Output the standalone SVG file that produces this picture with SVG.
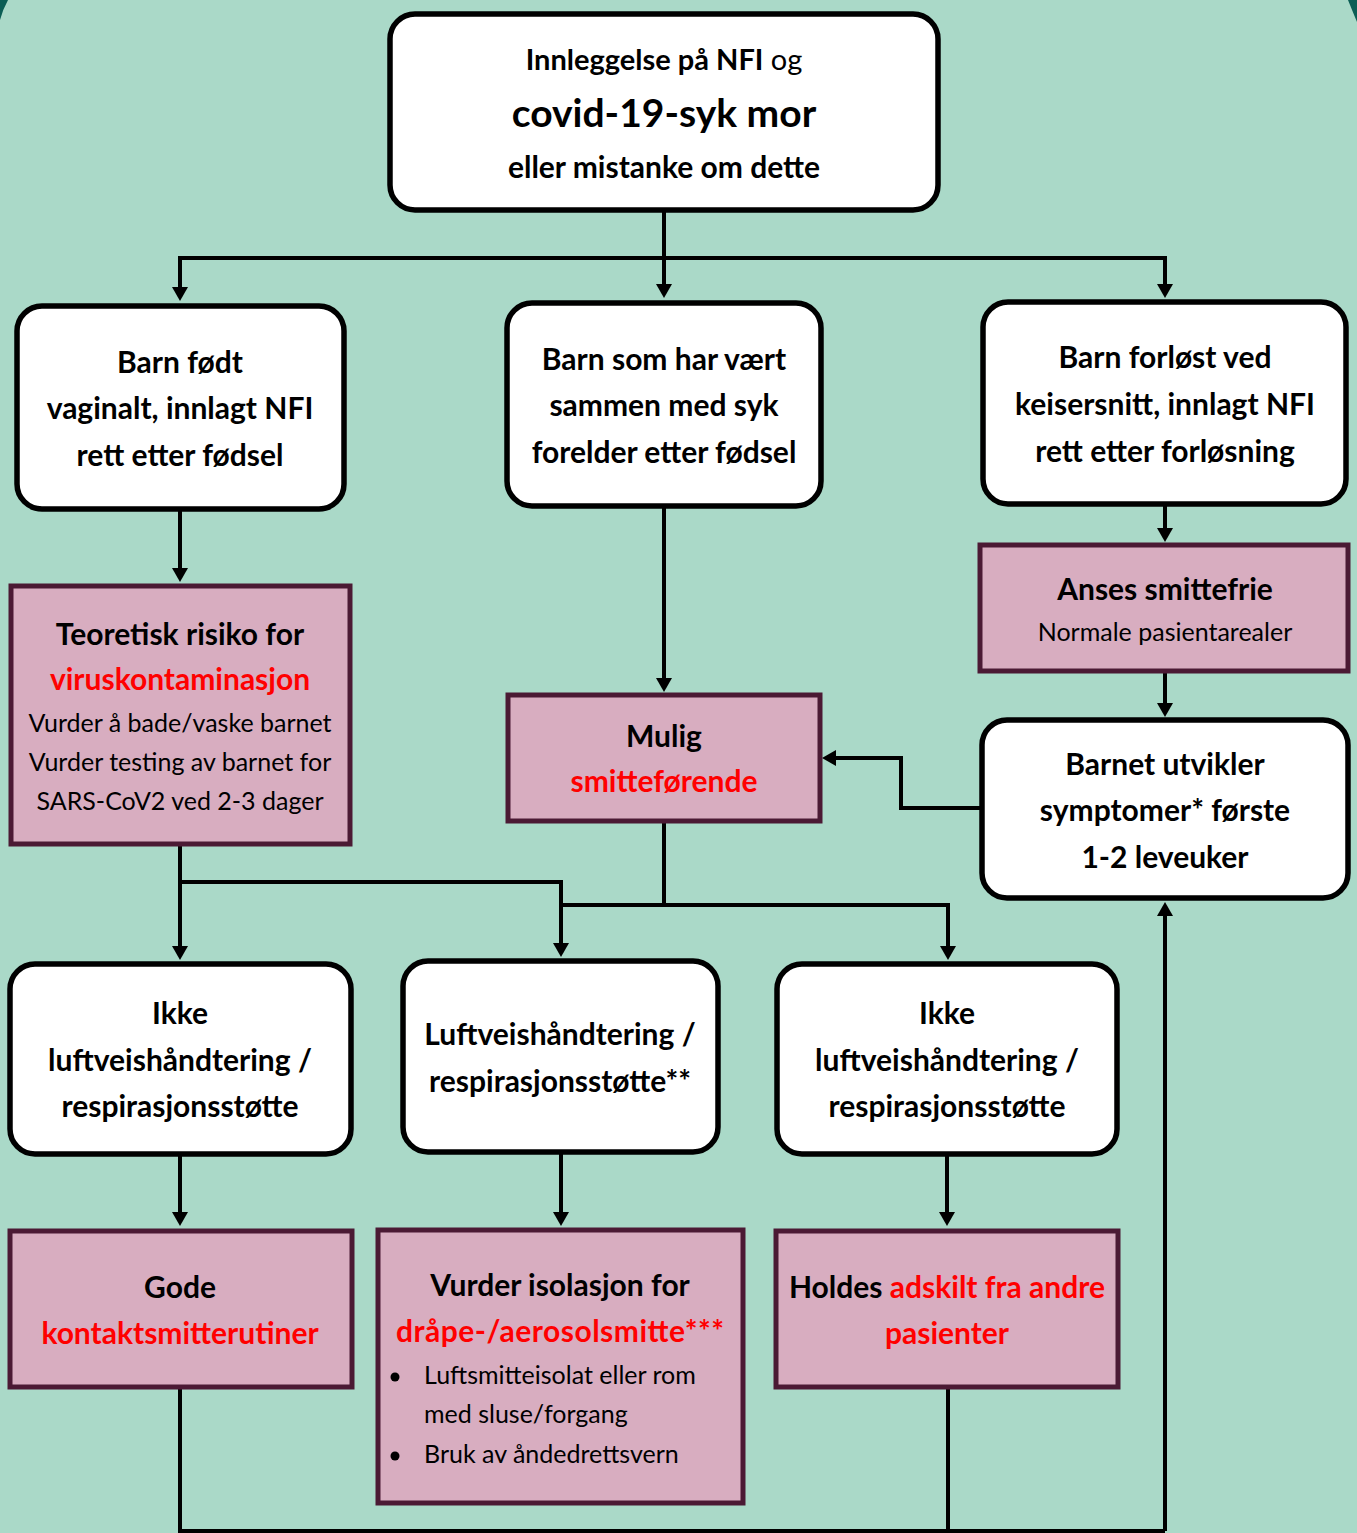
<svg xmlns="http://www.w3.org/2000/svg" width="1357" height="1533" viewBox="0 0 1357 1533">
<defs>
<style>
.w{fill:#fff;stroke:#000;stroke-width:5.5}
.p{fill:#D8ADC0;stroke:#4B1A34;stroke-width:5}
text{font-family:Lato,"Open Sans","DejaVu Sans",sans-serif;text-anchor:middle;fill:#000}
.b{font-weight:700;font-size:30px}
.r{font-weight:400;font-size:25px}
.red{fill:#FF0000}
.l{text-anchor:start}
.c{fill:none;stroke:#000;stroke-width:4}
</style>
<marker id="a" viewBox="0 0 14 16" refX="4" refY="8" markerWidth="14" markerHeight="16" markerUnits="userSpaceOnUse" orient="auto"><path d="M0,0 L14,8 L0,16 Z" fill="#000"/></marker>
</defs>
<rect x="0" y="0" width="1357" height="1533" fill="#0B5E55"/>
<path d="M8,0 L1348,0 Q1352,10 1357,22 L1357,1533 L0,1533 L0,20 Q3,9 8,0 Z" fill="#AAD9C8"/>

<g id="connectors" class="c" marker-end="url(#a)">
<path d="M664,212 V288"/>
<path d="M664,258 H180 V291"/>
<path d="M664,258 H1165 V288"/>
<path d="M180,510 V572"/>
<path d="M664,507 V682"/>
<path d="M1165,505 V532"/>
<path d="M1165,672 V707"/>
<path d="M981,808 H901 V758 H832"/>
<path d="M180,846 V950"/>
<path d="M180,882 H561 V947"/>
<path d="M664,822 V905 H561" marker-end="none"/>
<path d="M664,905 H948 V950"/>
<path d="M180,1155 V1216"/>
<path d="M561,1153 V1216"/>
<path d="M947,1155 V1216"/>
<path d="M180,1388 V1531 H1165" marker-end="none"/>
<path d="M948,1388 V1531" marker-end="none"/>
<path d="M1165,1531 V912"/>
</g>

<g id="n-top">
<rect class="w" x="390" y="14" width="548" height="196" rx="25"/>
<text x="664" y="70" style="font-size:29px"><tspan font-weight="700">Innleggelse på NFI</tspan> og</text>
<text x="664" y="127" font-weight="700" font-size="39">covid-19-syk mor</text>
<text x="664" y="178" class="b">eller mistanke om dette</text>
</g>

<g id="n-vaginal">
<rect class="w" x="17" y="306" width="327" height="203" rx="25"/>
<text x="180" y="373" class="b">Barn født</text>
<text x="180" y="419" class="b">vaginalt, innlagt NFI</text>
<text x="180" y="466" class="b">rett etter fødsel</text>
</g>

<g id="n-sammen">
<rect class="w" x="507" y="303" width="314" height="203" rx="25"/>
<text x="664" y="370" class="b">Barn som har vært</text>
<text x="664" y="416" class="b">sammen med syk</text>
<text x="664" y="463" class="b">forelder etter fødsel</text>
</g>

<g id="n-keiser">
<rect class="w" x="983" y="302" width="363" height="202" rx="25"/>
<text x="1165" y="368" class="b">Barn forløst ved</text>
<text x="1165" y="415" class="b">keisersnitt, innlagt NFI</text>
<text x="1165" y="462" class="b">rett etter forløsning</text>
</g>

<g id="n-teoretisk">
<rect class="p" x="11" y="586" width="339" height="258"/>
<text x="180" y="645" class="b">Teoretisk risiko for</text>
<text x="180" y="690" class="b red">viruskontaminasjon</text>
<text x="180" y="732" class="r">Vurder å bade/vaske barnet</text>
<text x="180" y="771" class="r">Vurder testing av barnet for</text>
<text x="180" y="810" class="r">SARS-CoV2 ved 2-3 dager</text>
</g>

<g id="n-mulig">
<rect class="p" x="508" y="695" width="312" height="126"/>
<text x="664" y="747" class="b">Mulig</text>
<text x="664" y="792" class="b red">smitteførende</text>
</g>

<g id="n-anses">
<rect class="p" x="980" y="545" width="368" height="126"/>
<text x="1165" y="600" class="b">Anses smittefrie</text>
<text x="1165" y="641" class="r">Normale pasientarealer</text>
</g>

<g id="n-barnet">
<rect class="w" x="982" y="720" width="366" height="178" rx="25"/>
<text x="1165" y="775" class="b">Barnet utvikler</text>
<text x="1165" y="821" class="b">symptomer* første</text>
<text x="1165" y="868" class="b">1-2 leveuker</text>
</g>

<g id="n-ikke1">
<rect class="w" x="10" y="964" width="341" height="190" rx="25"/>
<text x="180" y="1024" class="b">Ikke</text>
<text x="180" y="1071" class="b">luftveishåndtering /</text>
<text x="180" y="1117" class="b">respirasjonsstøtte</text>
</g>

<g id="n-luft">
<rect class="w" x="403" y="961" width="315" height="191" rx="25"/>
<text x="560" y="1045" class="b">Luftveishåndtering /</text>
<text x="560" y="1092" class="b">respirasjonsstøtte**</text>
</g>

<g id="n-ikke2">
<rect class="w" x="777" y="964" width="340" height="190" rx="25"/>
<text x="947" y="1024" class="b">Ikke</text>
<text x="947" y="1071" class="b">luftveishåndtering /</text>
<text x="947" y="1117" class="b">respirasjonsstøtte</text>
</g>

<g id="n-gode">
<rect class="p" x="10" y="1231" width="342" height="156"/>
<text x="180" y="1298" class="b">Gode</text>
<text x="180" y="1344" class="b red">kontaktsmitterutiner</text>
</g>

<g id="n-vurder">
<rect class="p" x="378" y="1230" width="365" height="273"/>
<text x="560" y="1296" class="b">Vurder isolasjon for</text>
<text x="560" y="1342" class="b red" textLength="328">dråpe-/aerosolsmitte***</text>
<circle cx="395" cy="1377" r="4.5" fill="#000"/>
<text x="424" y="1384" class="r l">Luftsmitteisolat eller rom</text>
<text x="424" y="1423" class="r l">med sluse/forgang</text>
<circle cx="395" cy="1456" r="4.5" fill="#000"/>
<text x="424" y="1463" class="r l">Bruk av åndedrettsvern</text>
</g>

<g id="n-holdes">
<rect class="p" x="776" y="1231" width="342" height="156"/>
<text x="947" y="1298" class="b">Holdes <tspan class="red">adskilt fra andre</tspan></text>
<text x="947" y="1344" class="b red">pasienter</text>
</g>
</svg>
